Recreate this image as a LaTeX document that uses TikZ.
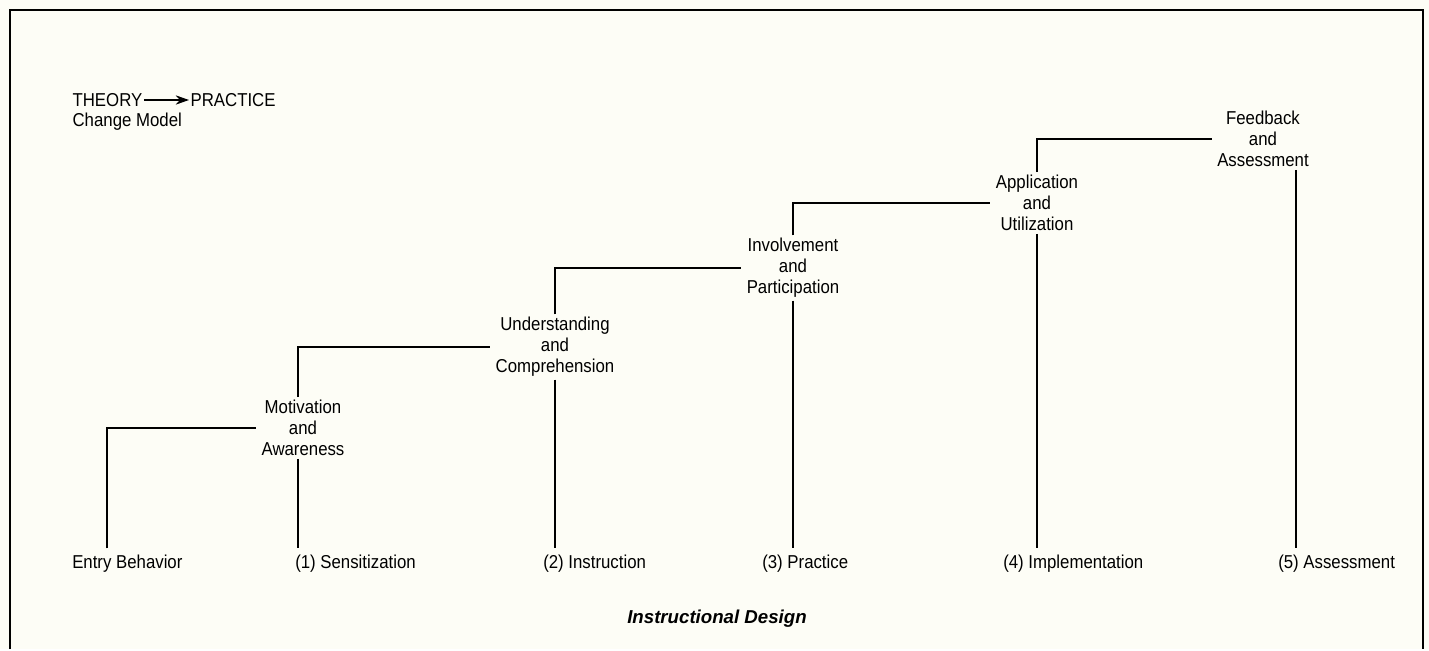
\documentclass[tikz,border=0pt]{standalone}
\usepackage{fontspec}
\setmainfont[FakeStretch=0.9]{Liberation Sans}
\newfontfamily\titlefont{Liberation Sans}
\usepackage{tikz}
\usetikzlibrary{arrows.meta}
\definecolor{paper}{RGB}{253,253,246}

\begin{document}
\begin{tikzpicture}[x=0.75pt,y=0.75pt,yscale=-1,xscale=1,
  every node/.style={font=\fontsize{14}{15.75}\selectfont},
  stage/.style={align=center,inner xsep=4pt,inner ysep=2pt},
  phase/.style={anchor=west,inner xsep=0pt,inner ysep=5pt},
  link/.style={line width=1.4pt}]
%set diagram size 1429 x 649
\path [fill=paper] (0,0) rectangle (1429,649);

%Frame
\draw [line width=1.6pt] (10,649) -- (10,10) -- (1423,10) -- (1423,649);

% Text Node
\node [anchor=west,inner sep=1pt] (theory) at (71,100) {THEORY};
% Text Node
\node [anchor=west,inner sep=1pt] (practice) at (189,100) {PRACTICE};
% Text Node
\node [anchor=west,inner sep=1pt] (model) at (71,122) {Change Model};
%Straight Lines
\draw [line width=1pt,-{Stealth[length=10pt,width=7pt]}] (theory) -- (practice);

% Text Node
\node [stage] (mot) at (303,428) {Motivation\\and\\Awareness};
% Text Node
\node [stage] (und) at (555,347) {Understanding\\and\\Comprehension};
% Text Node
\node [stage] (inv) at (793,268) {Involvement\\and\\Participation};
% Text Node
\node [stage] (app) at (1037,203) {Application\\and\\Utilization};
% Text Node
\node [stage] (fb) at (1263,139) {Feedback\\and\\Assessment};

% Text Node
\node [phase] (entry) at (72,564) {Entry Behavior};
% Text Node
\node [phase] (sens) at (295,564) {(1) Sensitization};
% Text Node
\node [phase] (inst) at (543,564) {(2) Instruction};
% Text Node
\node [phase] (prac) at (762,564) {(3) Practice};
% Text Node
\node [phase] (impl) at (1003,564) {(4) Implementation};
% Text Node
\node [phase] (asmt) at (1278,564) {(5) Assessment};

% Text Node
\node (design) at (717,619) {\titlefont\bfseries\itshape Instructional Design};

%Straight Lines
\draw [link] ([xshift=-15pt]entry.north) |- (mot.west);
\draw [link] ([xshift=-4pt]mot.north) |- (und.west);
\draw [link] (und.north) |- (inv.west);
\draw [link] (inv.north) |- (app.west);
\draw [link] (app.north) |- (fb.west);

%Straight Lines
\draw [link] ([xshift=-4pt]mot.south) -- ([xshift=-4pt]mot.south |- sens.north);
\draw [link] (und.south) -- (und.south |- inst.north);
\draw [link] (inv.south) -- (inv.south |- prac.north);
\draw [link] (app.south) -- (app.south |- impl.north);
\draw [link] ([xshift=25pt]fb.south) -- ([xshift=25pt]fb.south |- asmt.north);

\end{tikzpicture}
\end{document}
